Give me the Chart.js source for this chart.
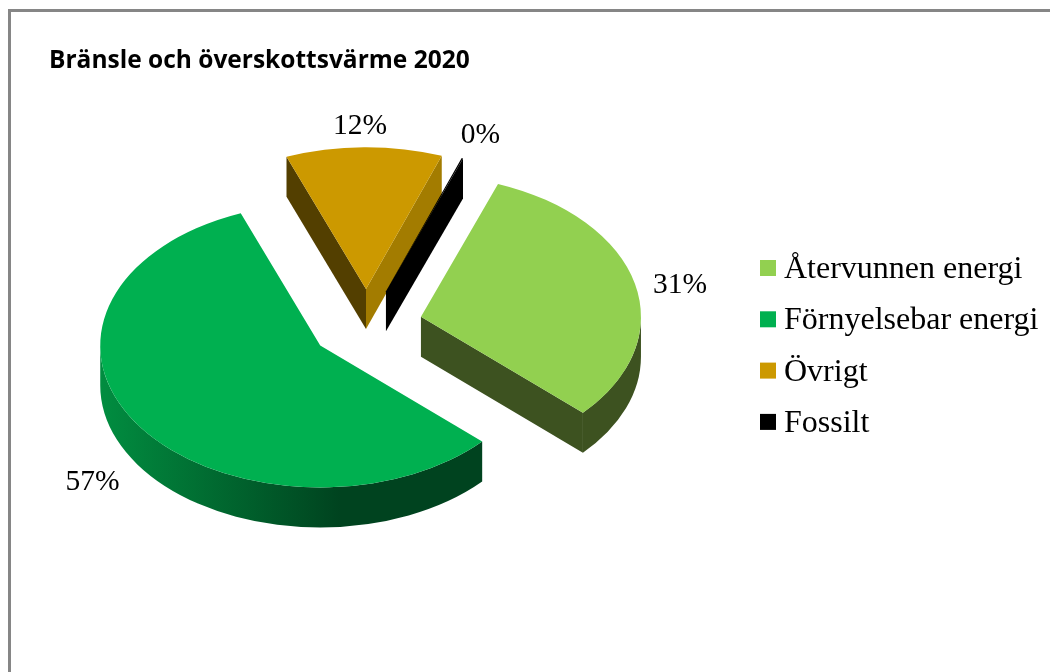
<!DOCTYPE html>
<html>
<head>
<meta charset="utf-8">
<title>Bränsle och överskottsvärme 2020</title>
<script src="https://cdn.jsdelivr.net/npm/chart.js@4"></script>
<style>
  html, body { margin: 0; padding: 0; background: #fff; overflow: hidden; }
  #frame { position: absolute; left: 8px; top: 9px; right: 0; bottom: 0; border-left: 3px solid #868686; border-top: 3px solid #868686; }
  #pie { position: absolute; left: 0; top: 0; }
</style>
</head>
<body>
<div id="frame"></div>
<canvas id="pie" width="1050" height="672"></canvas>
<script>
const categories = ['Återvunnen energi', 'Förnyelsebar energi', 'Övrigt', 'Fossilt'];
const shares = [31.2, 57.4, 11.5, 0.1];

const topColors = ['#92d050', '#00b050', '#cc9900', '#000000'];
const rimColorsLeft = ['#3d5220', '#018d40', '#533f00', '#000000'];
const rimColorsRight = ['#3d5220', '#00431f', '#533f00', '#000000'];
const startWallColors = ['#3d5220', '#00431f', '#533f00', '#000000'];
const endWallColors = ['#3d5220', '#00431f', '#a37c00', '#000000'];
const labelNudges = [[45, 1], [-46, 57], [-4, -21], [18, -23]];

// the look of the 3D pie
const tilt = 0.645;
const depth = 40;
const explode = 56;

const serif = '"Liberation Serif", serif';

function drawWall(ctx, x, y, angle, r, color) {
  const ex = x + Math.cos(angle) * r;
  const ey = y + Math.sin(angle) * r * tilt;
  ctx.fillStyle = color;
  ctx.beginPath();
  ctx.moveTo(x, y);
  ctx.lineTo(ex, ey);
  ctx.lineTo(ex, ey + depth);
  ctx.lineTo(x, y + depth);
  ctx.closePath();
  ctx.fill();
}

function drawRim(ctx, x, y, arc, i) {
  const r = arc.outerRadius;
  const a0 = Math.max(arc.startAngle, 0);
  const a1 = Math.min(arc.endAngle, Math.PI);
  if (a1 <= a0) return;
  // gradient runs left to right and stays dark past the middle of the pie
  const grad = ctx.createLinearGradient(x - r, 0, x + 20, 0);
  grad.addColorStop(0, rimColorsLeft[i]);
  grad.addColorStop(1, rimColorsRight[i]);
  ctx.fillStyle = grad;
  ctx.beginPath();
  ctx.ellipse(x, y, r, r * tilt, 0, a0, a1);
  ctx.ellipse(x, y + depth, r, r * tilt, 0, a1, a0, true);
  ctx.closePath();
  ctx.fill();
}

const pie3d = {
  id: 'pie3d',
  beforeDatasetsDraw(chart) {
    const ctx = chart.ctx;
    const arcs = chart.getDatasetMeta(0).data;
    arcs.forEach((arc, i) => {
      const mid = (arc.startAngle + arc.endAngle) / 2;
      const x = arc.x + Math.cos(mid) * explode;
      const y = arc.y + Math.sin(mid) * explode * tilt;
      ctx.save();
      // side walls first, only the ones that face the viewer
      if (Math.cos(arc.startAngle) < 0) drawWall(ctx, x, y, arc.startAngle, arc.outerRadius, startWallColors[i]);
      if (Math.cos(arc.endAngle) > 0) drawWall(ctx, x, y, arc.endAngle, arc.outerRadius, endWallColors[i]);
      drawRim(ctx, x, y, arc, i);
      // top face is the normal arc element, squashed
      ctx.translate(x - arc.x, y);
      ctx.scale(1, tilt);
      ctx.translate(0, -arc.y);
      arc.draw(ctx);
      ctx.restore();
    });
    return false;
  },
  afterDraw(chart) {
    const ctx = chart.ctx;
    const arcs = chart.getDatasetMeta(0).data;
    ctx.save();
    ctx.fillStyle = '#000';
    ctx.font = '29.5px ' + serif;
    ctx.textAlign = 'center';
    ctx.textBaseline = 'middle';
    arcs.forEach((arc, i) => {
      const mid = (arc.startAngle + arc.endAngle) / 2;
      const r = arc.outerRadius;
      const x = arc.x + Math.cos(mid) * (explode + r);
      const y = arc.y + Math.sin(mid) * (explode + r) * tilt;
      ctx.fillText(Math.round(shares[i]) + '%', x + labelNudges[i][0], y + labelNudges[i][1]);
    });
    // legend
    ctx.font = '32px ' + serif;
    ctx.textAlign = 'left';
    ctx.textBaseline = 'alphabetic';
    categories.forEach((name, i) => {
      const rowY = 260 + i * 51.3;
      ctx.fillStyle = topColors[i];
      ctx.fillRect(760, rowY, 16, 16);
      ctx.fillStyle = '#000';
      ctx.fillText(name, 784, rowY + 18);
    });
    ctx.restore();
  }
};

new Chart(document.getElementById('pie'), {
  type: 'pie',
  data: {
    labels: categories,
    datasets: [{
      data: shares,
      backgroundColor: topColors,
      borderWidth: 0,
      clip: false
    }]
  },
  options: {
    responsive: false,
    animation: false,
    rotation: 20.5,
    radius: 220,
    events: [],
    layout: { padding: { left: 49, right: 366, top: 46, bottom: 97 } },
    plugins: {
      legend: { display: false },
      tooltip: { enabled: false },
      title: {
        display: true,
        text: 'Bränsle och överskottsvärme 2020',
        align: 'start',
        color: '#000',
        padding: 0,
        font: { family: 'Open Sans', size: 24.5, weight: 'bold', lineHeight: 1.2 }
      }
    }
  },
  plugins: [pie3d]
});
</script>
</body>
</html>
